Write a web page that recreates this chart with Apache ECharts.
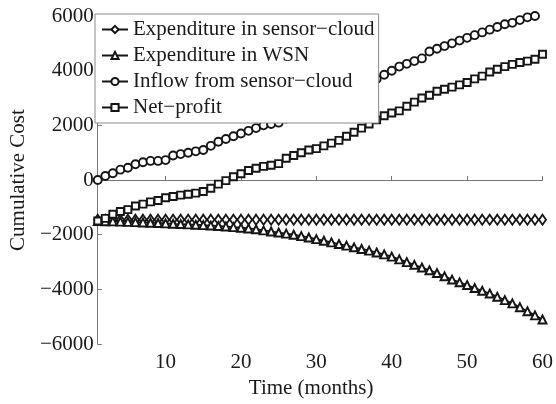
<!DOCTYPE html>
<html>
<head>
<meta charset="utf-8">
<script src="https://cdn.jsdelivr.net/npm/echarts@6/dist/echarts.min.js"></script>
<style>
html, body { margin: 0; padding: 0; background: #fff; }
#chart { width: 556px; height: 404px; }
</style>
</head>
<body>
<div id="chart"></div>
<script>
// months on the x axis
var months = [1, 2, 3, 4, 5, 6, 7, 8, 9, 10, 11, 12, 13, 14, 15, 16, 17, 18, 19, 20,
  21, 22, 23, 24, 25, 26, 27, 28, 29, 30, 31, 32, 33, 34, 35, 36, 37, 38, 39, 40,
  41, 42, 43, 44, 45, 46, 47, 48, 49, 50, 51, 52, 53, 54, 55, 56, 57, 58, 59, 60];

var xTicks = [10, 20, 30, 40, 50, 60];

var sensorCloudCost = [-1450, -1450, -1450, -1450, -1450, -1450, -1450, -1450, -1450, -1450,
  -1450, -1450, -1450, -1450, -1450, -1450, -1450, -1450, -1450, -1450,
  -1450, -1450, -1450, -1450, -1450, -1450, -1450, -1450, -1450, -1450,
  -1450, -1450, -1450, -1450, -1450, -1450, -1450, -1450, -1450, -1450,
  -1450, -1450, -1450, -1450, -1450, -1450, -1450, -1450, -1450, -1450,
  -1450, -1450, -1450, -1450, -1450, -1450, -1450, -1450, -1450, -1450];

var wsnCost = [-1500, -1505, -1510, -1520, -1530, -1540, -1550, -1560, -1570, -1585,
  -1600, -1610, -1620, -1635, -1650, -1665, -1680, -1700, -1720, -1745,
  -1770, -1800, -1840, -1880, -1920, -1960, -2000, -2050, -2100, -2160,
  -2220, -2280, -2340, -2400, -2460, -2520, -2580, -2650, -2720, -2800,
  -2900, -3000, -3100, -3200, -3300, -3400, -3520, -3640, -3740, -3840,
  -3950, -4050, -4150, -4270, -4390, -4510, -4650, -4800, -4950, -5100];

// inflow stops one month earlier than the other curves
var inflow = [0, 150, 250, 380, 450, 580, 650, 700, 700, 730,
  900, 950, 1000, 1050, 1100, 1250, 1400, 1500, 1600, 1700,
  1800, 1900, 2000, 2050, 2100, 2250, 2400, 2500, 2600, 2650,
  2750, 2850, 2950, 3100, 3250, 3400, 3550, 3700, 3850, 4000,
  4150, 4250, 4350, 4450, 4700, 4800, 4900, 5000, 5100, 5200,
  5300, 5400, 5500, 5600, 5700, 5750, 5850, 5950, 6000];

var netProfit = [-1500, -1400, -1250, -1150, -1080, -950, -880, -800, -750, -650,
  -600, -550, -520, -480, -420, -300, -150, -20, 120, 230,
  350, 430, 500, 540, 600, 800, 900, 1000, 1100, 1150,
  1250, 1350, 1450, 1600, 1750, 1900, 2050, 2200, 2350, 2450,
  2530, 2700, 2850, 3000, 3100, 3250, 3320, 3400, 3480, 3570,
  3700, 3800, 3950, 4050, 4150, 4230, 4300, 4350, 4420, 4600];

function pairs(values) {
  return values.map(function (v, i) { return [months[i], v]; });
}

function lineSeries(name, symbol, size, values) {
  return {
    name: name,
    type: "line",
    data: pairs(values),
    symbol: symbol,
    symbolSize: size,
    showAllSymbol: true,
    lineStyle: { color: "#151515", width: 1.8 },
    itemStyle: { color: "#fff", borderColor: "#151515", borderWidth: 1.9 },
    emphasis: { disabled: true },
    animation: false
  };
}

var font = "Liberation Serif";
var chart = echarts.init(document.getElementById("chart"));

chart.setOption({
  backgroundColor: "#fff",
  animation: false,
  grid: { left: 94, right: 12, top: 16, bottom: 57 },
  legend: {
    orient: "vertical",
    left: 95,
    top: 14,
    padding: [5, 4, 5, 6],
    itemGap: 5,
    itemWidth: 26,
    itemHeight: 9,
    backgroundColor: "#fff",
    borderColor: "#8a8a8a",
    borderWidth: 1,
    borderRadius: 0,
    textStyle: { fontFamily: font, fontSize: 21, color: "#1a1a1a", lineHeight: 21 },
    data: ["Expenditure in sensor\u2212cloud", "Expenditure in WSN",
      "Inflow from sensor\u2212cloud", "Net\u2212profit"]
  },
  xAxis: {
    type: "value",
    min: 1,
    max: 60,
    name: "Time (months)",
    nameLocation: "middle",
    nameGap: 32,
    nameTextStyle: { fontFamily: font, fontSize: 21, color: "#1a1a1a", padding: [0, 18, 0, 0] },
    axisLine: { lineStyle: { color: "#777", width: 1 } },
    axisTick: { inside: true, length: 4, customValues: xTicks, lineStyle: { color: "#777" } },
    axisLabel: { customValues: xTicks, fontFamily: font, fontSize: 21, color: "#1a1a1a", margin: 8 },
    splitLine: { show: false }
  },
  yAxis: {
    type: "value",
    min: -6000,
    max: 6000,
    interval: 2000,
    name: "Cumulative Cost",
    nameLocation: "middle",
    nameGap: 66,
    nameTextStyle: { fontFamily: font, fontSize: 21, color: "#1a1a1a" },
    axisLine: { show: true, lineStyle: { color: "#777", width: 1 } },
    axisTick: { show: true, inside: true, length: 4, lineStyle: { color: "#777" } },
    axisLabel: {
      fontFamily: font, fontSize: 21, color: "#1a1a1a", margin: 4,
      formatter: function (v) { return String(v).replace("-", "\u2212"); }
    },
    splitLine: { show: false }
  },
  series: [
    lineSeries("Expenditure in sensor\u2212cloud", "diamond", [7, 10], sensorCloudCost),
    lineSeries("Expenditure in WSN", "triangle", [8, 8], wsnCost),
    lineSeries("Inflow from sensor\u2212cloud", "circle", 8, inflow),
    lineSeries("Net\u2212profit", "rect", 7, netProfit)
  ]
});
</script>
</body>
</html>
